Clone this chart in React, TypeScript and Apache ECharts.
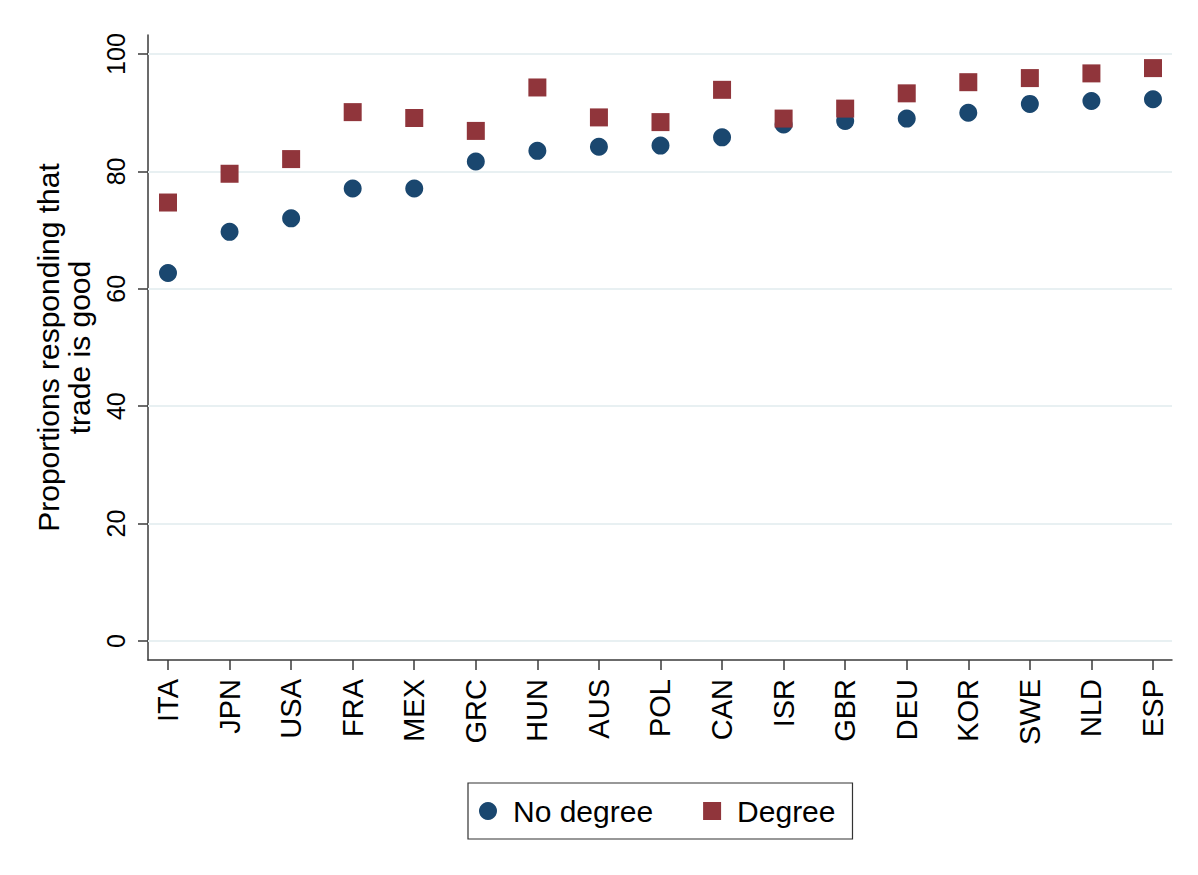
import React, { useEffect, useRef } from "react";
import * as echarts from "echarts";

const countries = ["ITA", "JPN", "USA", "FRA", "MEX", "GRC", "HUN", "AUS", "POL", "CAN", "ISR", "GBR", "DEU", "KOR", "SWE", "NLD", "ESP"];
const noDegree = [62.7, 69.7, 72.0, 77.1, 77.1, 81.7, 83.5, 84.2, 84.4, 85.8, 88.0, 88.6, 89.0, 90.0, 91.5, 92.0, 92.3];
const degree = [74.7, 79.6, 82.1, 90.1, 89.1, 86.9, 94.3, 89.2, 88.4, 93.9, 89.0, 90.7, 93.3, 95.2, 95.9, 96.7, 97.6];
const yTicks = [0, 20, 40, 60, 80, 100];

const FONT = "'Liberation Sans', Arial, Helvetica, sans-serif";
const NAVY = "#1a476f";
const MAROON = "#90353b";
const AXIS = "#3a3a3a";

export default function App() {
  const ref = useRef<HTMLDivElement>(null);
  useEffect(() => {
    if (!ref.current) return;
    const chart = echarts.init(ref.current, undefined, { renderer: "svg" });
    const idx = countries.map((_, i) => i);
    chart.setOption({
      animation: false,
      backgroundColor: "#ffffff",
      textStyle: { fontFamily: FONT, color: "#000" },
      grid: { left: 148, right: 26, top: 35, bottom: 215, containLabel: false },
      legend: {
        left: 468,
        top: 783,
        orient: "horizontal",
        itemWidth: 18,
        itemHeight: 18,
        itemGap: 50,
        padding: [13, 17, 13, 11],
        borderColor: "#333",
        borderWidth: 1.2,
        textStyle: { fontFamily: FONT, fontSize: 30, color: "#000", padding: [0, 0, 0, 11] },
        data: [
          { name: "No degree", icon: "circle" },
          { name: "Degree", icon: "rect" },
        ],
      },
      xAxis: {
        type: "value",
        min: -0.325,
        max: 16.309,
        axisLine: { show: true, onZero: false, lineStyle: { color: AXIS, width: 1.5 } },
        axisTick: { show: true, length: 10, customValues: idx, lineStyle: { color: AXIS, width: 1.5 } },
        axisLabel: {
          customValues: idx,
          rotate: 90,
          margin: 19,
          fontSize: 29,
          color: "#000",
          fontFamily: FONT,
          formatter: (v: number) => countries[Math.round(v)] ?? "",
        },
        splitLine: { show: false },
      },
      yAxis: {
        type: "value",
        min: -3.24,
        max: 103.24,
        name: "Proportions responding that\ntrade is good",
        nameLocation: "middle",
        nameRotate: 90,
        nameGap: 53,
        nameTextStyle: { fontSize: 30, lineHeight: 31, color: "#000", fontFamily: FONT },
        axisLine: { show: true, onZero: false, lineStyle: { color: AXIS, width: 1.5 } },
        axisTick: { show: true, length: 10, customValues: yTicks, lineStyle: { color: AXIS, width: 1.5 } },
        axisLabel: {
          customValues: yTicks,
          rotate: 90,
          margin: 20,
          fontSize: 25,
          color: "#000",
          fontFamily: FONT,
        },
        splitLine: { show: false },
      },
      series: [
        {
          name: "No degree",
          type: "scatter",
          symbol: "circle",
          symbolSize: 18,
          itemStyle: { color: NAVY, opacity: 1 },
          z: 3,
          data: noDegree.map((v, i) => [i, v]),
          markLine: {
            silent: true,
            z: 1,
            symbol: ["none", "none"],
            label: { show: false },
            lineStyle: { color: "#e8f0f2", width: 2, type: "solid" },
            data: yTicks.map((t) => ({ yAxis: t })),
          },
        },
        {
          name: "Degree",
          type: "scatter",
          symbol: "rect",
          symbolSize: 18,
          itemStyle: { color: MAROON, opacity: 1 },
          z: 4,
          data: degree.map((v, i) => [i, v]),
        },
      ],
    });
    return () => chart.dispose();
  }, []);
  return <div ref={ref} style={{ position: "fixed", left: 0, top: 0, width: 1198, height: 875 }} />;
}
